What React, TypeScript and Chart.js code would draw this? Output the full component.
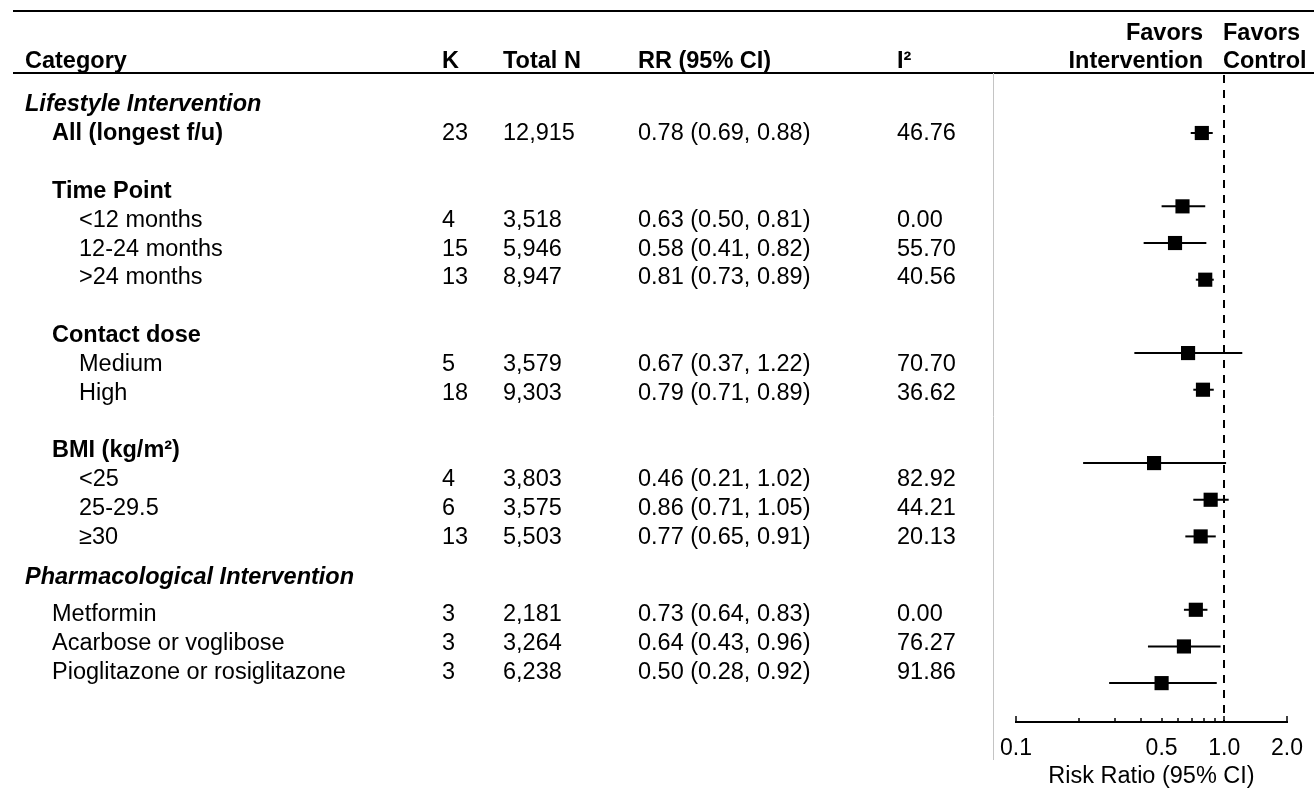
import React, { useEffect, useRef } from 'react';
import { Chart, registerables } from 'chart.js';

Chart.register(...registerables);

// ---------- data ----------
const headerLabels = ['Category', 'K', 'Total N', 'RR (95% CI)', 'I²'];
const favorsLeft = ['Favors', 'Intervention'];
const favorsRight = ['Favors', 'Control'];

// table lines (kinds: section = italic bold heading, subgroup = bold heading,
// overall = bold estimate row, item = indented estimate row, drug = estimate row)
const lineLabels = [
  'Lifestyle Intervention',
  'All (longest f/u)',
  'Time Point',
  '<12 months',
  '12-24 months',
  '>24 months',
  'Contact dose',
  'Medium',
  'High',
  'BMI (kg/m²)',
  '<25',
  '25-29.5',
  '≥30',
  'Pharmacological Intervention',
  'Metformin',
  'Acarbose or voglibose',
  'Pioglitazone or rosiglitazone',
];
const lineKinds = [
  'section', 'overall', 'subgroup', 'item', 'item', 'item', 'subgroup', 'item', 'item',
  'subgroup', 'item', 'item', 'item', 'section', 'drug', 'drug', 'drug',
];

// estimates, in the order of the estimate rows above
const estK = [23, 4, 15, 13, 5, 18, 4, 6, 13, 3, 3, 3];
const estN = [12915, 3518, 5946, 8947, 3579, 9303, 3803, 3575, 5503, 2181, 3264, 6238];
const estRR = [0.78, 0.63, 0.58, 0.81, 0.67, 0.79, 0.46, 0.86, 0.77, 0.73, 0.64, 0.5];
const estLo = [0.69, 0.5, 0.41, 0.73, 0.37, 0.71, 0.21, 0.71, 0.65, 0.64, 0.43, 0.28];
const estHi = [0.88, 0.81, 0.82, 0.89, 1.22, 0.89, 1.02, 1.05, 0.91, 0.83, 0.96, 0.92];
const estI2 = [46.76, 0.0, 55.7, 40.56, 70.7, 36.62, 82.92, 44.21, 20.13, 0.0, 76.27, 91.86];

const xTickValues = [0.1, 0.2, 0.3, 0.4, 0.5, 0.6, 0.7, 0.8, 0.9, 1, 2];
const xTickLabels = ['0.1', '', '', '', '0.5', '', '', '', '', '1.0', '2.0'];
const xMajorTicks = [0.1, 1, 2];
const xTitle = 'Risk Ratio (95% CI)';
const nullValue = 1;

// ---------- layout derived in code ----------
const FAMILY = '"Liberation Sans", Arial, Helvetica, sans-serif';
const fnt = (size: number, weight = 'normal', style = 'normal') => `${style} ${weight} ${size}px ${FAMILY}`;
const FS = 23.5;

const isEstimate = (k: string) => k === 'overall' || k === 'item' || k === 'drug';

// table line positions (row units)
const linePos: number[] = [];
{
  let p = 0;
  lineKinds.forEach((k, i) => {
    if (i > 0) {
      const prev = lineKinds[i - 1];
      if (k === 'section') p += 1.4;
      else if (k === 'subgroup') p += 2;
      else if (prev === 'section' && k === 'drug') p += 1.3;
      else p += 1;
    }
    linePos.push(p);
  });
}

// forest rows: blank row between groups
const forestRow: number[] = [];
{
  let r = -1;
  let brokeSinceLast = false;
  lineKinds.forEach((k) => {
    if (isEstimate(k)) {
      r += forestRow.length === 0 ? 1 : brokeSinceLast ? 2 : 1;
      forestRow.push(r);
      brokeSinceLast = false;
    } else {
      brokeSinceLast = true;
    }
  });
}

const fmt2 = (v: number) => v.toFixed(2);

const forestPlugin = {
  id: 'forestDecor',
  beforeDatasetsDraw(chart: any) {
    const { ctx, chartArea, scales } = chart;
    const xs = scales.x;
    ctx.save();
    // horizontal rules
    ctx.strokeStyle = '#000';
    ctx.lineWidth = 2;
    ctx.beginPath();
    ctx.moveTo(13, 11);
    ctx.lineTo(1314, 11);
    ctx.stroke();
    ctx.beginPath();
    ctx.moveTo(13, chartArea.top);
    ctx.lineTo(1314, chartArea.top);
    ctx.stroke();
    // light vertical separator
    ctx.strokeStyle = '#c4c4c4';
    ctx.lineWidth = 1;
    ctx.beginPath();
    ctx.moveTo(993.5, chartArea.top);
    ctx.lineTo(993.5, 760);
    ctx.stroke();
    // null line
    const xn = Math.round(xs.getPixelForValue(nullValue));
    ctx.strokeStyle = '#000';
    ctx.lineWidth = 2;
    ctx.setLineDash([8, 7]);
    ctx.beginPath();
    ctx.moveTo(xn, chartArea.top + 2);
    ctx.lineTo(xn, chartArea.bottom);
    ctx.stroke();
    ctx.setLineDash([]);
    // axis line + ticks (pointing up)
    const yb = chartArea.bottom;
    ctx.lineWidth = 2;
    ctx.beginPath();
    ctx.moveTo(xs.getPixelForValue(xTickValues[0]) - 1, yb);
    ctx.lineTo(xs.getPixelForValue(xTickValues[xTickValues.length - 1]) + 1, yb);
    ctx.stroke();
    const ticks = xs.ticks && xs.ticks.length ? xs.ticks.map((t: any) => t.value) : xTickValues;
    ctx.lineWidth = 1.5;
    ticks.forEach((v: number) => {
      const px = Math.round(xs.getPixelForValue(v));
      const len = xMajorTicks.includes(v) ? 6 : 4;
      ctx.beginPath();
      ctx.moveTo(px, yb);
      ctx.lineTo(px, yb - len);
      ctx.stroke();
    });
    ctx.restore();
  },
  afterDraw(chart: any) {
    const { ctx, chartArea, scales } = chart;
    const xs = scales.x;
    const yt = scales.yt;
    ctx.save();
    ctx.fillStyle = '#000';

    // axis labels
    ctx.font = fnt(23);
    ctx.textAlign = 'center';
    ctx.textBaseline = 'middle';
    xTickValues.forEach((v, i) => {
      if (xTickLabels[i]) ctx.fillText(xTickLabels[i], xs.getPixelForValue(v), chartArea.bottom + 27);
    });
    ctx.font = fnt(FS);
    ctx.fillText(xTitle, (chartArea.left + chartArea.right) / 2, chartArea.bottom + 55);

    // headers
    const colX = [25, 442, 503, 638, 897];
    ctx.textBaseline = 'alphabetic';
    ctx.textAlign = 'left';
    ctx.font = fnt(FS, 'bold');
    headerLabels.forEach((h, i) => ctx.fillText(h, colX[i], 68));
    ctx.textAlign = 'right';
    ctx.fillText(favorsLeft[0], 1203, 40);
    ctx.fillText(favorsLeft[1], 1203, 68);
    ctx.textAlign = 'left';
    ctx.fillText(favorsRight[0], 1223, 40);
    ctx.fillText(favorsRight[1], 1223, 68);

    // rows
    ctx.textBaseline = 'middle';
    let e = 0;
    lineLabels.forEach((label, i) => {
      const k = lineKinds[i];
      const y = yt.getPixelForValue(linePos[i]);
      let x = 25;
      if (k === 'section') {
        ctx.font = fnt(FS, 'bold', 'italic');
      } else if (k === 'subgroup' || k === 'overall') {
        ctx.font = fnt(FS, 'bold');
        x = 52;
      } else if (k === 'drug') {
        ctx.font = fnt(FS);
        x = 52;
      } else {
        ctx.font = fnt(FS);
        x = 79;
      }
      ctx.fillText(label, x, y);
      if (isEstimate(k)) {
        ctx.font = fnt(FS);
        ctx.fillText(String(estK[e]), colX[1], y);
        ctx.fillText(estN[e].toLocaleString('en-US'), colX[2], y);
        ctx.fillText(`${fmt2(estRR[e])} (${fmt2(estLo[e])}, ${fmt2(estHi[e])})`, colX[3], y);
        ctx.fillText(fmt2(estI2[e]), colX[4], y);
        e++;
      }
    });
    ctx.restore();
  },
};

export default function App() {
  const ref = useRef<HTMLCanvasElement | null>(null);
  useEffect(() => {
    if (!ref.current) return;
    const squares = {
      label: 'RR',
      data: estRR.map((v, i) => ({ x: v, y: forestRow[i] })),
      pointStyle: 'rect',
      pointRadius: 10,
      pointHoverRadius: 10,
      backgroundColor: '#000',
      borderColor: '#000',
      borderWidth: 0,
      order: 0,
    };
    const cis = estRR.map((_, i) => ({
      label: 'CI ' + i,
      data: [
        { x: estLo[i], y: forestRow[i] },
        { x: estHi[i], y: forestRow[i] },
      ],
      showLine: true,
      pointRadius: 0,
      borderColor: '#000',
      borderWidth: 2,
      order: 1,
    }));
    const chart = new Chart(ref.current, {
      type: 'scatter',
      data: { datasets: [squares as any, ...(cis as any)] },
      options: {
        animation: false,
        responsive: false,
        devicePixelRatio: 1,
        layout: { padding: { left: 1016, right: 27, top: 73, bottom: 71 } },
        plugins: { legend: { display: false }, tooltip: { enabled: false } },
        events: [],
        scales: {
          x: {
            type: 'logarithmic',
            display: false,
            min: 0.1,
            max: 2,
            afterBuildTicks: (scale: any) => {
              scale.ticks = xTickValues.map((v) => ({ value: v }));
            },
          },
          y: {
            type: 'linear',
            display: false,
            reverse: true,
            min: -1.636,
            max: 16.06,
          },
          yt: {
            type: 'linear',
            display: false,
            reverse: true,
            min: -1.111,
            max: 21.42,
          },
        },
      },
      plugins: [forestPlugin],
    });
    return () => chart.destroy();
  }, []);
  return (
    <div style={{ position: 'absolute', left: 0, top: 0, width: 1314, height: 793, background: '#fff' }}>
      <canvas ref={ref} width={1314} height={793} style={{ display: 'block' }} />
    </div>
  );
}
